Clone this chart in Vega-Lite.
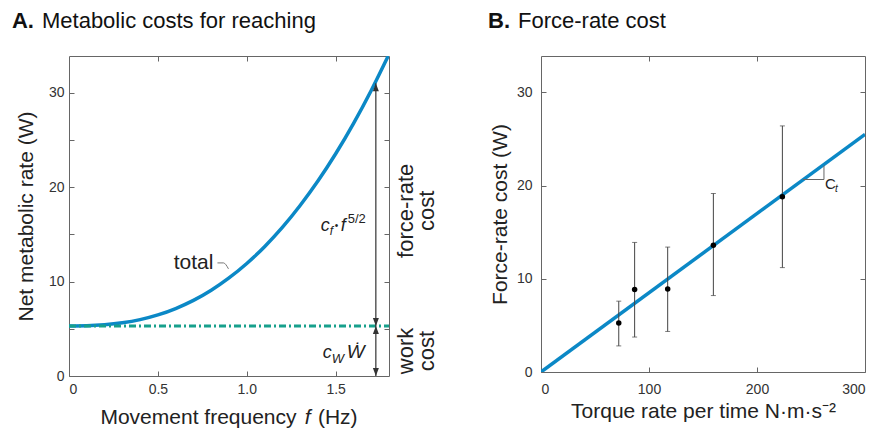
{
  "$schema": "https://vega.github.io/schema/vega-lite/v6.json",
  "background": "white",
  "padding": {"left": 11, "top": 9, "right": 5, "bottom": 0},
  "spacing": 48,
  "config": {
    "font": "Liberation Sans",
    "view": {"stroke": "#666", "strokeWidth": 1},
    "axis": {
      "domain": false, "grid": false, "ticks": true, "tickSize": -5, "tickColor": "#666", "tickWidth": 1,
      "labelFont": "Liberation Sans", "labelFontSize": 14, "labelColor": "#333", "labelPadding": 10,
      "titleFont": "Liberation Sans", "titleFontSize": 21, "titleFontWeight": "normal", "titleColor": "#222"
    },
    "text": {"font": "Liberation Sans", "color": "#222"}
  },
  "hconcat": [
    {
      "width": 320, "height": 320,
      "resolve": {"axis": {"x": "independent", "y": "independent"}},
      "layer": [
        {
          "layer": [
            {
              "data": {"values": [
                {"x": 0, "y": 5.3}, {"x": 0.1, "y": 5.32}, {"x": 0.2, "y": 5.42}, {"x": 0.3, "y": 5.63},
                {"x": 0.4, "y": 5.97}, {"x": 0.5, "y": 6.47}, {"x": 0.6, "y": 7.15}, {"x": 0.7, "y": 8.01},
                {"x": 0.8, "y": 9.09}, {"x": 0.9, "y": 10.39}, {"x": 1.0, "y": 11.92}, {"x": 1.1, "y": 13.7},
                {"x": 1.2, "y": 15.74}, {"x": 1.3, "y": 18.06}, {"x": 1.4, "y": 20.65}, {"x": 1.5, "y": 23.54},
                {"x": 1.6, "y": 26.74}, {"x": 1.7, "y": 30.25}, {"x": 1.8, "y": 34.08}
              ]},
              "mark": {"type": "line", "color": "#0b88c6", "strokeWidth": 3.5, "clip": true, "interpolate": "monotone"},
              "encoding": {
                "x": {"field": "x", "type": "quantitative", "scale": {"domain": [0, 1.8], "nice": false},
                  "axis": {"values": [0, 0.5, 1, 1.5], "labelExpr": "datum.value == 0 ? '0' : format(datum.value, '.1f')", "title": null, "labelPadding": 11}},
                "y": {"field": "y", "type": "quantitative", "scale": {"domain": [0, 33.9], "nice": false},
                  "axis": {"values": [0, 5, 10, 15, 20, 25, 30], "labelExpr": "datum.value % 10 == 0 ? datum.label : ''", "title": "Net metabolic rate (W)", "titlePadding": 12}}
              }
            },
            {
              "data": {"values": [{"x": 0, "y": 5.3}, {"x": 1.8, "y": 5.3}]},
              "mark": {"type": "line", "color": "#17a08c", "strokeWidth": 3, "strokeDash": [7, 3, 2, 3]},
              "encoding": {
                "x": {"field": "x", "type": "quantitative", "scale": {"domain": [0, 1.8], "nice": false}},
                "y": {"field": "y", "type": "quantitative", "scale": {"domain": [0, 33.9], "nice": false}}
              }
            },
            {
              "data": {"values": [{"x": 1.726, "y": 5.3, "y2": 31.0}, {"x": 1.726, "y": 0, "y2": 5.3}]},
              "mark": {"type": "rule", "color": "#333", "strokeWidth": 1.2},
              "encoding": {
                "x": {"field": "x", "type": "quantitative", "scale": {"domain": [0, 1.8], "nice": false}},
                "y": {"field": "y", "type": "quantitative", "scale": {"domain": [0, 33.9], "nice": false}},
                "y2": {"field": "y2"}
              }
            },
            {
              "data": {"values": [{"x": 1.726, "y": 31.0}, {"x": 1.726, "y": 5.3}]},
              "mark": {"type": "point", "shape": "M0,0L-0.75,2L0.75,2Z", "size": 64, "filled": true, "color": "#333", "opacity": 1, "strokeWidth": 0},
              "encoding": {
                "x": {"field": "x", "type": "quantitative", "scale": {"domain": [0, 1.8], "nice": false}},
                "y": {"field": "y", "type": "quantitative", "scale": {"domain": [0, 33.9], "nice": false}}
              }
            },
            {
              "data": {"values": [{"x": 1.726, "y": 5.3}, {"x": 1.726, "y": 0}]},
              "mark": {"type": "point", "shape": "M0,0L-0.75,-2L0.75,-2Z", "size": 64, "filled": true, "color": "#333", "opacity": 1, "strokeWidth": 0},
              "encoding": {
                "x": {"field": "x", "type": "quantitative", "scale": {"domain": [0, 1.8], "nice": false}},
                "y": {"field": "y", "type": "quantitative", "scale": {"domain": [0, 33.9], "nice": false}}
              }
            },
            {
              "data": {"values": [{"x": 0.835, "y": 11.98}, {"x": 0.869, "y": 11.98}, {"x": 0.897, "y": 11.35}]},
              "mark": {"type": "line", "color": "#777", "strokeWidth": 1, "interpolate": "monotone"},
              "encoding": {
                "x": {"field": "x", "type": "quantitative", "scale": {"domain": [0, 1.8], "nice": false}},
                "y": {"field": "y", "type": "quantitative", "scale": {"domain": [0, 33.9], "nice": false}}
              }
            },
            {
              "data": {"values": [{"x": 0.812, "y": 11.35, "t": "total"}]},
              "mark": {"type": "text", "align": "right", "baseline": "alphabetic", "fontSize": 21},
              "encoding": {
                "x": {"field": "x", "type": "quantitative", "scale": {"domain": [0, 1.8], "nice": false}},
                "y": {"field": "y", "type": "quantitative", "scale": {"domain": [0, 33.9], "nice": false}},
                "text": {"field": "t"}
              }
            },
            {
              "data": {"values": [{"x": 1.416, "y": 15.38, "t": "c"}]},
              "mark": {"type": "text", "align": "left", "baseline": "alphabetic", "fontSize": 18, "fontStyle": "italic"},
              "encoding": {
                "x": {"field": "x", "type": "quantitative", "scale": {"domain": [0, 1.8], "nice": false}},
                "y": {"field": "y", "type": "quantitative", "scale": {"domain": [0, 33.9], "nice": false}},
                "text": {"field": "t"}
              }
            },
            {
              "data": {"values": [{"x": 1.416, "y": 15.38, "t": "f"}]},
              "mark": {"type": "text", "align": "left", "baseline": "alphabetic", "fontSize": 12, "fontStyle": "italic", "dx": 9, "dy": 4},
              "encoding": {
                "x": {"field": "x", "type": "quantitative", "scale": {"domain": [0, 1.8], "nice": false}},
                "y": {"field": "y", "type": "quantitative", "scale": {"domain": [0, 33.9], "nice": false}},
                "text": {"field": "t"}
              }
            },
            {
              "data": {"values": [{"x": 1.416, "y": 15.38, "t": "•"}]},
              "mark": {"type": "text", "align": "left", "baseline": "alphabetic", "fontSize": 10, "dx": 14, "dy": -2},
              "encoding": {
                "x": {"field": "x", "type": "quantitative", "scale": {"domain": [0, 1.8], "nice": false}},
                "y": {"field": "y", "type": "quantitative", "scale": {"domain": [0, 33.9], "nice": false}},
                "text": {"field": "t"}
              }
            },
            {
              "data": {"values": [{"x": 1.416, "y": 15.38, "t": "f"}]},
              "mark": {"type": "text", "align": "left", "baseline": "alphabetic", "fontSize": 18, "fontStyle": "italic", "dx": 20},
              "encoding": {
                "x": {"field": "x", "type": "quantitative", "scale": {"domain": [0, 1.8], "nice": false}},
                "y": {"field": "y", "type": "quantitative", "scale": {"domain": [0, 33.9], "nice": false}},
                "text": {"field": "t"}
              }
            },
            {
              "data": {"values": [{"x": 1.416, "y": 15.38, "t": "5/2"}]},
              "mark": {"type": "text", "align": "left", "baseline": "alphabetic", "fontSize": 13, "dx": 27, "dy": -8},
              "encoding": {
                "x": {"field": "x", "type": "quantitative", "scale": {"domain": [0, 1.8], "nice": false}},
                "y": {"field": "y", "type": "quantitative", "scale": {"domain": [0, 33.9], "nice": false}},
                "text": {"field": "t"}
              }
            },
            {
              "data": {"values": [{"x": 1.427, "y": 1.91, "t": "c"}]},
              "mark": {"type": "text", "align": "left", "baseline": "alphabetic", "fontSize": 18, "fontStyle": "italic"},
              "encoding": {
                "x": {"field": "x", "type": "quantitative", "scale": {"domain": [0, 1.8], "nice": false}},
                "y": {"field": "y", "type": "quantitative", "scale": {"domain": [0, 33.9], "nice": false}},
                "text": {"field": "t"}
              }
            },
            {
              "data": {"values": [{"x": 1.427, "y": 1.91, "t": "W"}]},
              "mark": {"type": "text", "align": "left", "baseline": "alphabetic", "fontSize": 13, "fontStyle": "italic", "dx": 9, "dy": 5},
              "encoding": {
                "x": {"field": "x", "type": "quantitative", "scale": {"domain": [0, 1.8], "nice": false}},
                "y": {"field": "y", "type": "quantitative", "scale": {"domain": [0, 33.9], "nice": false}},
                "text": {"field": "t"}
              }
            },
            {
              "data": {"values": [{"x": 1.427, "y": 1.91, "t": "Ẇ"}]},
              "mark": {"type": "text", "align": "left", "baseline": "alphabetic", "fontSize": 19, "fontStyle": "italic", "dx": 24},
              "encoding": {
                "x": {"field": "x", "type": "quantitative", "scale": {"domain": [0, 1.8], "nice": false}},
                "y": {"field": "y", "type": "quantitative", "scale": {"domain": [0, 33.9], "nice": false}},
                "text": {"field": "t"}
              }
            },
            {
              "data": {"values": [{"x": 1.84, "y": 17.5, "t": ["force-rate", "cost"]}, {"x": 1.84, "y": 2.65, "t": ["work", "cost"]}]},
              "mark": {"type": "text", "align": "center", "baseline": "top", "angle": 270, "fontSize": 22, "lineHeight": 21},
              "encoding": {
                "x": {"field": "x", "type": "quantitative", "scale": {"domain": [0, 1.8], "nice": false}},
                "y": {"field": "y", "type": "quantitative", "scale": {"domain": [0, 33.9], "nice": false}},
                "text": {"field": "t"}
              }
            },
            {
              "data": {"values": [{"x": 1.28, "y": -5.09, "t": "Movement frequency"}]},
              "mark": {"type": "text", "align": "right", "baseline": "alphabetic", "fontSize": 21},
              "encoding": {
                "x": {"field": "x", "type": "quantitative", "scale": {"domain": [0, 1.8], "nice": false}},
                "y": {"field": "y", "type": "quantitative", "scale": {"domain": [0, 33.9], "nice": false}},
                "text": {"field": "t"}
              }
            },
            {
              "data": {"values": [{"x": 1.342, "y": -5.09, "t": "f"}]},
              "mark": {"type": "text", "align": "center", "baseline": "alphabetic", "fontSize": 21, "fontStyle": "italic"},
              "encoding": {
                "x": {"field": "x", "type": "quantitative", "scale": {"domain": [0, 1.8], "nice": false}},
                "y": {"field": "y", "type": "quantitative", "scale": {"domain": [0, 33.9], "nice": false}},
                "text": {"field": "t"}
              }
            },
            {
              "data": {"values": [{"x": 1.4, "y": -5.09, "t": "(Hz)"}]},
              "mark": {"type": "text", "align": "left", "baseline": "alphabetic", "fontSize": 21},
              "encoding": {
                "x": {"field": "x", "type": "quantitative", "scale": {"domain": [0, 1.8], "nice": false}},
                "y": {"field": "y", "type": "quantitative", "scale": {"domain": [0, 33.9], "nice": false}},
                "text": {"field": "t"}
              }
            },
            {
              "data": {"values": [{"x": -0.321, "y": 36.9, "t": "A."}]},
              "mark": {"type": "text", "align": "left", "baseline": "alphabetic", "fontSize": 22, "fontWeight": "bold", "color": "#111"},
              "encoding": {
                "x": {"field": "x", "type": "quantitative", "scale": {"domain": [0, 1.8], "nice": false}},
                "y": {"field": "y", "type": "quantitative", "scale": {"domain": [0, 33.9], "nice": false}},
                "text": {"field": "t"}
              }
            },
            {
              "data": {"values": [{"x": -0.152, "y": 36.9, "t": "Metabolic costs for reaching"}]},
              "mark": {"type": "text", "align": "left", "baseline": "alphabetic", "fontSize": 22, "color": "#111"},
              "encoding": {
                "x": {"field": "x", "type": "quantitative", "scale": {"domain": [0, 1.8], "nice": false}},
                "y": {"field": "y", "type": "quantitative", "scale": {"domain": [0, 33.9], "nice": false}},
                "text": {"field": "t"}
              }
            }
          ]
        },
        {
          "data": {"values": [{"x": 0, "y": 0}]},
          "mark": {"type": "point", "opacity": 0},
          "encoding": {
            "x": {"field": "x", "type": "quantitative", "scale": {"domain": [0, 1.8], "nice": false},
              "axis": {"orient": "top", "labels": false, "title": null, "values": [0.5, 1, 1.5]}},
            "y": {"field": "y", "type": "quantitative", "scale": {"domain": [0, 33.9], "nice": false},
              "axis": {"orient": "right", "labels": false, "title": null, "values": [5, 10, 15, 20, 25, 30]}}
          }
        }
      ]
    },
    {
      "width": 324, "height": 316,
      "resolve": {"axis": {"x": "independent", "y": "independent"}},
      "layer": [
        {
          "layer": [
            {
              "data": {"values": [{"x": 0, "y": 0}, {"x": 300, "y": 25.5}]},
              "mark": {"type": "line", "color": "#0b88c6", "strokeWidth": 3.5, "clip": true},
              "encoding": {
                "x": {"field": "x", "type": "quantitative", "scale": {"domain": [0, 300], "nice": false},
                  "axis": {"values": [0, 100, 200, 300], "title": "Torque rate per time N·m·s⁻²", "labelPadding": 15, "titlePadding": 4}},
                "y": {"field": "y", "type": "quantitative", "scale": {"domain": [0, 33.9], "nice": false},
                  "axis": {"values": [0, 10, 20, 30], "title": "Force-rate cost (W)", "labelPadding": 14, "titlePadding": 6}}
              }
            },
            {
              "data": {"values": [
                {"x": 72, "lo": 2.8, "hi": 7.6},
                {"x": 86.7, "lo": 3.75, "hi": 13.9},
                {"x": 117.3, "lo": 4.35, "hi": 13.4},
                {"x": 159.6, "lo": 8.2, "hi": 19.15},
                {"x": 223.5, "lo": 11.2, "hi": 26.4}
              ]},
              "mark": {"type": "errorbar", "ticks": {"size": 5, "color": "#444"}, "rule": {"color": "#444", "strokeWidth": 1}},
              "encoding": {
                "x": {"field": "x", "type": "quantitative", "scale": {"domain": [0, 300], "nice": false}},
                "y": {"field": "lo", "type": "quantitative", "scale": {"domain": [0, 33.9], "nice": false}, "title": "Force-rate cost (W)"},
                "y2": {"field": "hi"}
              }
            },
            {
              "data": {"values": [
                {"x": 72, "y": 5.25}, {"x": 86.7, "y": 8.85}, {"x": 117.3, "y": 8.9}, {"x": 159.6, "y": 13.6}, {"x": 223.5, "y": 18.8}
              ]},
              "mark": {"type": "point", "filled": true, "color": "#000", "size": 30, "opacity": 1},
              "encoding": {
                "x": {"field": "x", "type": "quantitative", "scale": {"domain": [0, 300], "nice": false}},
                "y": {"field": "y", "type": "quantitative", "scale": {"domain": [0, 33.9], "nice": false}}
              }
            },
            {
              "data": {"values": [{"x": 242.6, "y": 20.65}, {"x": 262, "y": 20.65}, {"x": 262, "y": 22.15}]},
              "mark": {"type": "line", "color": "#666", "strokeWidth": 1},
              "encoding": {
                "x": {"field": "x", "type": "quantitative", "scale": {"domain": [0, 300], "nice": false}},
                "y": {"field": "y", "type": "quantitative", "scale": {"domain": [0, 33.9], "nice": false}}
              }
            },
            {
              "data": {"values": [{"x": 263, "y": 19.6, "t": "C"}]},
              "mark": {"type": "text", "align": "left", "baseline": "alphabetic", "fontSize": 15},
              "encoding": {
                "x": {"field": "x", "type": "quantitative", "scale": {"domain": [0, 300], "nice": false}},
                "y": {"field": "y", "type": "quantitative", "scale": {"domain": [0, 33.9], "nice": false}},
                "text": {"field": "t"}
              }
            },
            {
              "data": {"values": [{"x": 263, "y": 19.6, "t": "t"}]},
              "mark": {"type": "text", "align": "left", "baseline": "alphabetic", "fontSize": 10, "fontStyle": "italic", "dx": 10, "dy": 3},
              "encoding": {
                "x": {"field": "x", "type": "quantitative", "scale": {"domain": [0, 300], "nice": false}},
                "y": {"field": "y", "type": "quantitative", "scale": {"domain": [0, 33.9], "nice": false}},
                "text": {"field": "t"}
              }
            },
            {
              "data": {"values": [{"x": -49, "y": 36.9, "t": "B."}]},
              "mark": {"type": "text", "align": "left", "baseline": "alphabetic", "fontSize": 22, "fontWeight": "bold", "color": "#111"},
              "encoding": {
                "x": {"field": "x", "type": "quantitative", "scale": {"domain": [0, 300], "nice": false}},
                "y": {"field": "y", "type": "quantitative", "scale": {"domain": [0, 33.9], "nice": false}},
                "text": {"field": "t"}
              }
            },
            {
              "data": {"values": [{"x": -21.3, "y": 36.9, "t": "Force-rate cost"}]},
              "mark": {"type": "text", "align": "left", "baseline": "alphabetic", "fontSize": 22, "color": "#111"},
              "encoding": {
                "x": {"field": "x", "type": "quantitative", "scale": {"domain": [0, 300], "nice": false}},
                "y": {"field": "y", "type": "quantitative", "scale": {"domain": [0, 33.9], "nice": false}},
                "text": {"field": "t"}
              }
            }
          ]
        },
        {
          "data": {"values": [{"x": 0, "y": 0}]},
          "mark": {"type": "point", "opacity": 0},
          "encoding": {
            "x": {"field": "x", "type": "quantitative", "scale": {"domain": [0, 300], "nice": false},
              "axis": {"orient": "top", "labels": false, "title": null, "values": [100, 200]}},
            "y": {"field": "y", "type": "quantitative", "scale": {"domain": [0, 33.9], "nice": false},
              "axis": {"orient": "right", "labels": false, "title": null, "values": [10, 20, 30]}}
          }
        }
      ]
    }
  ]
}
